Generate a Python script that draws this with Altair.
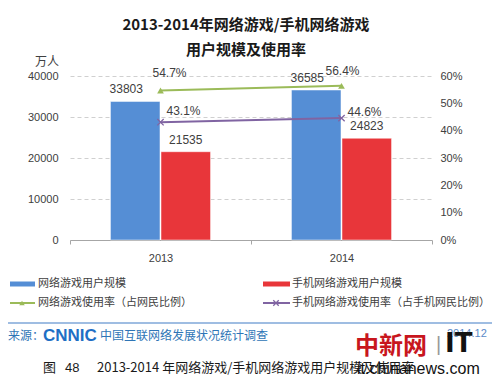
import altair as alt
import pandas as pd

years = ["2013", "2014"]
bar_series = ["网络游戏用户规模", "手机网络游戏用户规模"]
online_users = [33803, 36585]
mobile_users = [21535, 24823]
rate_series = ["网络游戏使用率（占网民比例）", "手机网络游戏使用率（占手机网民比例）"]
online_rate = [0.547, 0.564]
mobile_rate = [0.431, 0.446]
left_ticks = [0, 10000, 20000, 30000, 40000]
right_ticks = [0, 0.1, 0.2, 0.3, 0.4, 0.5, 0.6]

BLUE = "#558ED5"
RED = "#E8363A"
GREEN = "#9BBB59"
PURPLE = "#8064A2"
CJK = "Noto Sans CJK SC"
LAT = "Liberation Sans"

bars_df = pd.DataFrame({
    "year": years + years,
    "series": [bar_series[0]] * 2 + [bar_series[1]] * 2,
    "value": online_users + mobile_users,
})
rates_df = pd.DataFrame({
    "year": years + years,
    "series": [rate_series[0]] * 2 + [rate_series[1]] * 2,
    "rate": online_rate + mobile_rate,
})

x_enc = alt.X(
    "year:N", sort=years,
    scale=alt.Scale(paddingInner=0, paddingOuter=0),
    axis=alt.Axis(title=None, labelAngle=0, domainColor="#A6A6A6", tickColor="#A6A6A6",
                  tickBand="extent", tickSize=4, labelPadding=8, labelFontSize=11,
                  labelColor="#404040", labelFont=LAT, grid=False),
)
y_left = alt.Y(
    "value:Q", scale=alt.Scale(domain=[0, 40000], nice=False),
    axis=alt.Axis(title=None, values=left_ticks, format="d", grid=True, gridDash=[4, 3],
                  gridColor="#D0D0D0", domain=False, ticks=False, labelPadding=12,
                  labelFontSize=11, labelColor="#404040", labelFont=LAT, orient="left"),
)
y_right = alt.Y(
    "rate:Q", scale=alt.Scale(domain=[0, 0.6], nice=False),
    axis=alt.Axis(title=None, values=right_ticks, format=".0%", grid=False, domain=False,
                  ticks=False, labelPadding=8, labelFontSize=11, labelColor="#404040",
                  labelFont=LAT, orient="right"),
)

xoff = alt.XOffset("series:N", sort=bar_series,
                   scale=alt.Scale(paddingInner=0.02, paddingOuter=0.8))

bars = alt.Chart(bars_df).mark_bar(stroke="white", strokeWidth=0.5).encode(
    x=x_enc,
    xOffset=xoff,
    y=y_left,
    color=alt.Color("series:N", sort=bar_series,
                    scale=alt.Scale(domain=bar_series, range=[BLUE, RED]), legend=None),
)

def bar_label(s, dx):
    return alt.Chart(bars_df).transform_filter(alt.datum.series == s).mark_text(
        baseline="bottom", dy=-5, dx=dx, fontSize=12, font=LAT, color="#404040"
    ).encode(
        x=x_enc,
        xOffset=xoff,
        y=y_left,
        text=alt.Text("value:Q", format="d"),
    )

bar_group = alt.layer(bars, bar_label(bar_series[0], -9), bar_label(bar_series[1], 0))

green_line = alt.Chart(rates_df).transform_filter(alt.datum.series == rate_series[0]).mark_line(
    color=GREEN, strokeWidth=2
).encode(x=x_enc, y=y_right)
green_pts = alt.Chart(rates_df).transform_filter(alt.datum.series == rate_series[0]).mark_point(
    shape="triangle-up", filled=True, size=45, color=GREEN, opacity=1
).encode(x=x_enc, y=y_right)
purple_line = alt.Chart(rates_df).transform_filter(alt.datum.series == rate_series[1]).mark_line(
    color=PURPLE, strokeWidth=2
).encode(x=x_enc, y=y_right)
XPATH = "M-1,-1L1,1M-1,1L1,-1"
purple_pts = alt.Chart(rates_df).transform_filter(alt.datum.series == rate_series[1]).mark_point(
    shape=XPATH, filled=False, size=40, color=PURPLE, strokeWidth=1.3, opacity=1
).encode(x=x_enc, y=y_right)

def rate_label(s, yr, dx, dy):
    return alt.Chart(rates_df).transform_filter(
        (alt.datum.series == s) & (alt.datum.year == yr)
    ).mark_text(dx=dx, dy=dy, fontSize=12, font=LAT, color="#404040").encode(
        x=x_enc, y=y_right, text=alt.Text("rate:Q", format=".1%")
    )

rate_group = alt.layer(
    green_line, purple_line, green_pts, purple_pts,
    rate_label(rate_series[0], "2013", 9, -17),
    rate_label(rate_series[0], "2014", 1, -15),
    rate_label(rate_series[1], "2013", 23, -11),
    rate_label(rate_series[1], "2014", 23, -6),
)

one = pd.DataFrame({"d": [0]})

def txt(s, x, y, size=12, color="#404040", font=CJK, weight="normal", align="left", **kw):
    return alt.Chart(one).mark_text(
        text=s, fontSize=size, color=color, font=font, fontWeight=weight,
        align=align, baseline="middle", **kw
    ).encode(x=alt.value(x), y=alt.value(y))

def hline(x1, x2, y, color, width):
    return alt.Chart(one).mark_rule(color=color, strokeWidth=width).encode(
        x=alt.value(x1), x2=alt.value(x2), y=alt.value(y)
    )

def marker(x, y, shape, color, filled, size):
    return alt.Chart(one).mark_point(
        shape=shape, filled=filled, color=color, size=size, opacity=1, strokeWidth=1.3
    ).encode(x=alt.value(x), y=alt.value(y))

annotations = [
    txt("2013-2014年网络游戏/手机网络游戏", 176, -51, size=15, color="#1a1a1a", weight="bold", align="center"),
    txt("用户规模及使用率", 176, -26, size=15, color="#1a1a1a", weight="bold", align="center"),
    txt("万人", -23, -14, size=12, color="#404040", align="center"),
    # legend
    hline(-60, -35, 208, BLUE, 5), txt(bar_series[0], -32, 208, size=11),
    hline(193, 220, 208, RED, 5), txt(bar_series[1], 222, 208, size=11),
    hline(-60, -35, 227, GREEN, 2), marker(-48, 227, "triangle-up", GREEN, True, 30),
    txt(rate_series[0], -32, 227, size=11),
    hline(193, 220, 227, PURPLE, 2), marker(206, 227, XPATH, PURPLE, False, 30),
    txt(rate_series[1], 222, 227, size=11),
    # footer
    hline(-62, 422, 247, "#7FA7D8", 1.5),
    txt("来源：", -62, 260, size=12, color="#2E75B6"),
    txt("CNNIC", -27, 260, size=17, color="#1F6FC5", font=LAT, weight="bold"),
    txt("中国互联网络发展状况统计调查", 30, 260, size=12, color="#2E75B6"),
    txt("2014.12", 377, 258, size=11, color="#5B8BC9", font=LAT),
    txt("图", -27, 292, size=13, color="#1a1a1a"),
    txt("48", -5, 292, size=13, color="#1a1a1a", font=LAT),
    txt("2013-2014 年网络游戏/手机网络游戏用户规模及使用率", 27, 292, size=13, color="#1a1a1a"),
    # watermark
    txt("中新网", 285, 271, size=24, color="#C8161D", weight="bold"),
    txt("|", 366, 269, size=20, color="#999999", font=LAT),
    txt("IT", 375, 268, size=26, color="#111111", font="DejaVu Sans", weight="bold"),
    txt("it.chinanews.com", 287, 293, size=16, color="#111111", font=LAT),
]

chart = alt.layer(bar_group, rate_group, *annotations).resolve_scale(
    y="independent"
).properties(
    width=362, height=164,
    autosize=alt.AutoSizeParams(type="none"),
    padding={"left": 62, "top": 68, "right": 60, "bottom": 137},
).configure_view(stroke=None)

chart.save("out.html", embed_options={"renderer": "svg", "actions": False})
